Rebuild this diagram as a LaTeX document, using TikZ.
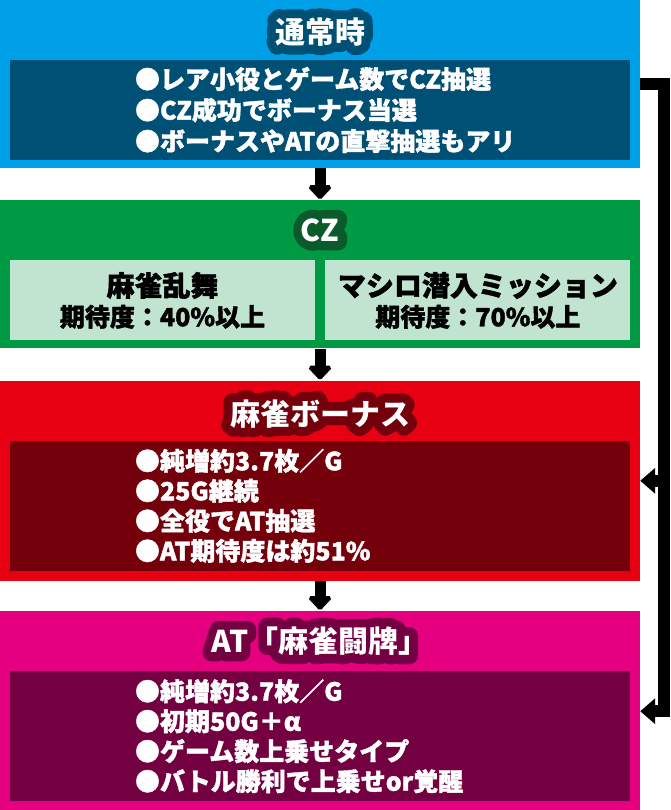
\documentclass[tikz,border=0pt]{standalone}
\usepackage{fontspec}
\usetikzlibrary{positioning, arrows.meta}
\newfontfamily\jpfont{Noto Sans CJK JP}
\definecolor{normalblue}{HTML}{00A0E9}
\definecolor{normaldark}{HTML}{004F74}
\definecolor{czgreen}{HTML}{009944}
\definecolor{czlight}{HTML}{C1E4D0}
\definecolor{czdark}{HTML}{0B5A2B}
\definecolor{bonusred}{HTML}{E60012}
\definecolor{bonusdark}{HTML}{73000A}
\definecolor{atpink}{HTML}{E4007F}
\definecolor{atdark}{HTML}{730041}
% white title with a dark rim
\newcommand\rimtext[2]{\rlap{\addfontfeature{FakeBold=60}\color{#1}#2}#2}
\tikzstyle{stage} = [rectangle, minimum width=640pt, inner sep=0pt]
\tikzstyle{panel} = [rectangle, minimum width=620pt, inner sep=0pt]
\tikzstyle{option} = [rectangle, minimum width=305pt, minimum height=80pt, inner sep=0pt, fill=czlight, align=center, font=\jpfont\bfseries\addfontfeature{FakeBold=1.5}]
\tikzstyle{heading} = [text=white, inner sep=0pt, font=\jpfont\bfseries\fontsize{30}{32}\selectfont]
\tikzstyle{bullets} = [text=white, align=left, inner sep=0pt, font=\jpfont\bfseries\addfontfeature{FakeBold=1.5}\fontsize{25}{30}\selectfont]
\tikzstyle{flow} = [line width=11pt, -{Triangle[width=27pt,length=15pt]}]
\tikzstyle{feed} = [line width=12pt, line join=miter, miter limit=10, -{Triangle[width=25pt,length=15pt]}]

\begin{document}
\begin{tikzpicture}[x=1pt, y=-1pt, node distance=32pt, line join=round, miter limit=1]
    \useasboundingbox (0,0) rectangle (670,810);

    \node (normal) [stage, fill=normalblue, minimum height=168pt] at (320,84) {};
    \node (normaltitle) [heading, yshift=-32pt] at (normal.north) {\rimtext{normaldark}{通常時}};
    \node (normalbody) [panel, fill=normaldark, minimum height=100pt, below=60pt of normal.north] {};
    \node (normaltext) [bullets, anchor=west, xshift=125pt, font={\jpfont\bfseries\addfontfeature{FakeBold=1.5}\fontsize{25}{31}\selectfont}] at (normalbody.west) {●レア小役とゲーム数でCZ抽選\\
    ●CZ成功でボーナス当選\\
    ●ボーナスやATの直撃抽選もアリ};

    \node (cz) [stage, fill=czgreen, minimum height=148pt, below=of normal] {};
    \node (cztitle) [heading, yshift=-30pt] at (cz.north) {\rimtext{czdark}{CZ}};
    \node (dance) [option, below=60pt of cz.north west, anchor=north west, xshift=10pt] {{\fontsize{28}{32}\selectfont 麻雀乱舞}\\[5pt]
    {\fontsize{25}{30}\selectfont 期待度：40\%以上}};
    \node (mission) [option, right=10pt of dance] {{\fontsize{28}{32}\selectfont マシロ潜入ミッション}\\[5pt]
    {\fontsize{25}{30}\selectfont 期待度：70\%以上}};

    \node (bonus) [stage, fill=bonusred, minimum height=200pt, below=of cz] {};
    \node (bonustitle) [heading, yshift=-33pt] at (bonus.north) {\rimtext{bonusdark}{麻雀ボーナス}};
    \node (bonusbody) [panel, fill=bonusdark, minimum height=130pt, below=60pt of bonus.north] {};
    \node (bonustext) [bullets, anchor=west, xshift=125pt] at (bonusbody.west) {●純増約3.7枚／G\\
    ●25G継続\\
    ●全役でAT抽選\\
    ●AT期待度は約51\%};

    \node (at) [stage, fill=atpink, minimum height=200pt, below=30pt of bonus] {};
    \node (attitle) [heading, yshift=-30pt] at (at.north) {\rimtext{atdark}{AT「麻雀闘牌」}};
    \node (atbody) [panel, fill=atdark, minimum height=130pt, below=60pt of at.north] {};
    \node (attext) [bullets, anchor=west, xshift=125pt] at (atbody.west) {●純増約3.7枚／G\\
    ●初期50G＋α\\
    ●ゲーム数上乗せタイプ\\
    ●バトル勝利で上乗せor覚醒};

    \draw[flow] (normal) -- (cz);
    \draw[flow] (cz) -- (bonus);
    \draw[flow] (bonus) -- (at);
    \draw[feed] (normal.east) -- ++(24,0) |- (bonus.east);
    \draw[feed] (normal.east) -- ++(24,0) |- (at.east);

\end{tikzpicture}
\end{document}
